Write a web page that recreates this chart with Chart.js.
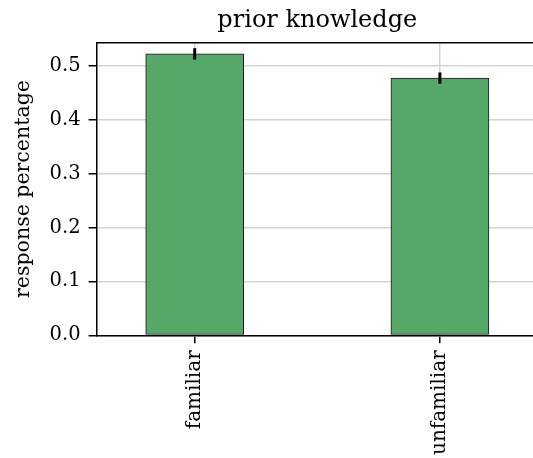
<!DOCTYPE html>
<html>
<head>
<meta charset="utf-8">
<script src="https://cdn.jsdelivr.net/npm/chart.js@4/dist/chart.umd.min.js"></script>
<style>
  html, body { margin: 0; padding: 0; background: #fff; overflow: hidden; }
  #wrap { width: 538px; height: 458px; }
</style>
</head>
<body>
<div id="wrap"><canvas id="chart"></canvas></div>
<script>
// data
const categories = ["familiar", "unfamiliar"];
const responseMean = [0.522, 0.477];
const responseErr = [0.0105, 0.0105];
const yTicks = [0.0, 0.1, 0.2, 0.3, 0.4, 0.5];

const FONT = "'DejaVu Serif', 'Liberation Serif', serif";

// top spine, like the matplotlib axes box (right one falls off the crop)
const frameLines = {
    id: "frameLines",
    afterDraw(chart) {
        const { ctx, chartArea: a } = chart;
        ctx.save();
        ctx.strokeStyle = "#000";
        ctx.lineWidth = 1.5;
        ctx.beginPath();
        ctx.moveTo(a.left, a.top);
        ctx.lineTo(a.right, a.top);
        ctx.stroke();
        ctx.restore();
    }
};

// vertical error bars, no caps
const errorBars = {
    id: "errorBars",
    afterDatasetsDraw(chart) {
        const { ctx, scales } = chart;
        ctx.save();
        ctx.strokeStyle = "#000";
        ctx.lineWidth = 3;
        responseMean.forEach((v, i) => {
            const x = scales.x.getPixelForValue(i);
            ctx.beginPath();
            ctx.moveTo(x, scales.y.getPixelForValue(v - responseErr[i]));
            ctx.lineTo(x, scales.y.getPixelForValue(v + responseErr[i]));
            ctx.stroke();
        });
        ctx.restore();
    }
};

new Chart(document.getElementById("chart"), {
    type: "bar",
    data: {
        datasets: [{
            data: responseMean.map((v, i) => ({ x: i, y: v })),
            backgroundColor: "#55a868",
            borderColor: "#1a1a1a",
            borderWidth: 1,
            borderSkipped: false,
            barThickness: 98
        }]
    },
    options: {
        responsive: true,
        maintainAspectRatio: false,
        animation: false,
        devicePixelRatio: 1,
        layout: { padding: { left: 11, right: 0, top: 2, bottom: -4 } },
        plugins: {
            legend: { display: false },
            tooltip: { enabled: false },
            title: {
                display: true,
                text: "prior knowledge",
                fullSize: false,
                color: "#000",
                font: { family: FONT, size: 24, weight: "normal" },
                padding: { top: 4, bottom: 8 }
            }
        },
        scales: {
            x: {
                type: "linear",
                min: -0.4,
                max: 1.4,
                offset: false,
                afterBuildTicks: (s) => { s.ticks = categories.map((c, i) => ({ value: i })); },
                ticks: {
                    callback: (v) => categories[v],
                    color: "#000",
                    font: { family: FONT, size: 20 },
                    minRotation: 90,
                    maxRotation: 90,
                    padding: 7
                },
                grid: { offset: false, color: "#d3d3d3", lineWidth: 1.5, tickColor: "#000", tickLength: 8 },
                border: { color: "#000", width: 1.5 }
            },
            y: {
                min: 0,
                max: 0.5425,
                afterBuildTicks: (s) => { s.ticks = yTicks.map(v => ({ value: v })); },
                ticks: {
                    callback: (v) => v.toFixed(1),
                    color: "#000",
                    font: { family: FONT, size: 19.5 },
                    padding: 8
                },
                grid: { color: "#d3d3d3", lineWidth: 1.5, tickColor: "#000", tickLength: 8 },
                border: { color: "#000", width: 1.5 },
                title: {
                    display: true,
                    text: "response percentage",
                    color: "#000",
                    font: { family: FONT, size: 20.5 },
                    padding: { top: 0, bottom: 6 }
                }
            }
        }
    },
    plugins: [frameLines, errorBars]
});
</script>
</body>
</html>
